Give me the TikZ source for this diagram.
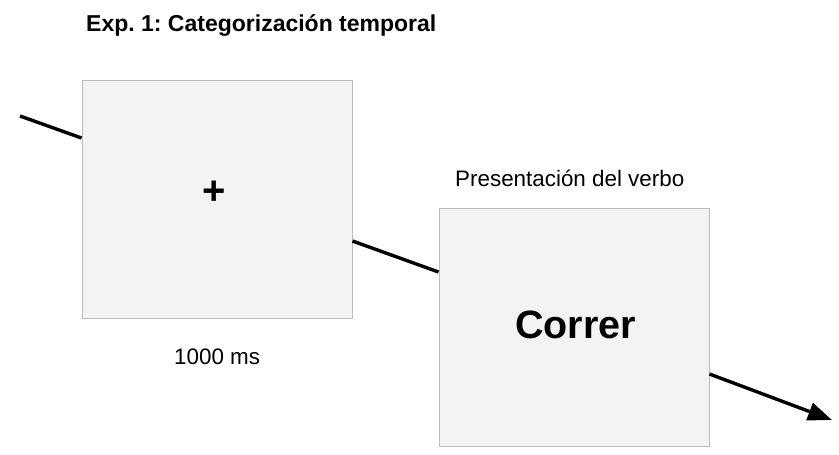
\documentclass[tikz,border=0pt]{standalone}
\usepackage{fontspec}
\setmainfont{Liberation Sans}
\usetikzlibrary{arrows.meta}
\definecolor{boxfill}{HTML}{F3F3F3}
\definecolor{boxline}{HTML}{BDBDBD}
\frenchspacing
\begin{document}
\begin{tikzpicture}[x=1pt,y=-1pt,
  screen/.style={draw=boxline,fill=boxfill,line width=1pt,minimum width=270pt,minimum height=238pt,inner sep=0pt},
  flow/.style={line width=3.4pt,black},
  lbl/.style={inner sep=0pt,anchor=base west,font=\fontsize{22.4}{26}\selectfont}]
\useasboundingbox (0,0) rectangle (839,455);
\node[lbl,font=\fontsize{23}{26}\selectfont\bfseries] (title) at (86,31) {Exp. 1: Categorización temporal};
\node[screen] (box1) at (217,199) {};
\node[screen] (box2) at (574,327) {};
\node[inner sep=0pt,font=\fontsize{40}{44}\selectfont\bfseries] (plus) at (214,193) {+};
\node[inner sep=0pt,anchor=base west,font=\fontsize{39.5}{44}\selectfont\bfseries] (verb) at (515,338) {Correr};
\node[lbl] (pres) at (455,186) {Presentación del verbo};
\node[lbl] (dur) at (174,364) {1000 ms};
\coordinate (start) at (20,116);
\coordinate (end) at (832,420);
\draw[flow] (start) -- ([yshift=61pt]box1.west);
\draw[flow] ([yshift=-42pt]box1.east) -- ([yshift=55pt]box2.west);
\draw[flow,-{Triangle[length=24pt,width=18pt]}] ([yshift=-47pt]box2.east) -- (end);
\end{tikzpicture}
\end{document}
